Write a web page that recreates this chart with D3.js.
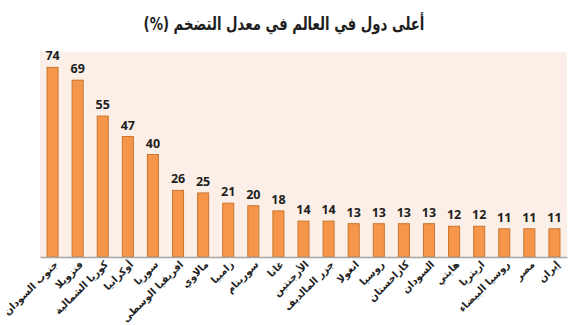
<!DOCTYPE html>
<html lang="ar">
<head>
<meta charset="utf-8">
<script src="https://cdn.jsdelivr.net/npm/d3@7"></script>
<style>
  html, body { margin: 0; padding: 0; background: #ffffff; }
  svg { display: block; }
</style>
</head>
<body>
<svg id="chart" width="570" height="325"></svg>
<script>
// Countries ranked by inflation rate (%)
const countries = [
  "جنوب السودان", "فنزويلا", "كوريا الشمالية", "أوكرانيا", "سوريا",
  "افريقيا الوسطى", "مالاوي", "زامبيا", "سورينام", "غانا",
  "الأرجنتين", "جزر المالديف", "انغولا", "روسيا", "كازاخستان",
  "السودان", "هايتي", "اريتريا", "روسيا البيضاء", "مصر", "إيران"
];
const inflation = [74, 69, 55, 47, 40, 26, 25, 21, 20, 18, 14, 14, 13, 13, 13, 13, 12, 12, 11, 11, 11];
const yDomain = [0, 80];
const title = "أعلى دول في العالم في معدل التضخم (%)";

const data = countries.map((c, i) => ({ country: c, value: inflation[i] }));

const svg = d3.select("#chart");
const plot = { left: 40, right: 567, top: 52, bottom: 257 };

const x = d3.scaleBand()
  .domain(countries)
  .range([plot.left, plot.right])
  .paddingInner(0.56)
  .paddingOuter(0.28);

const y = d3.scaleLinear()
  .domain(yDomain)
  .range([plot.bottom, plot.top]);

// Plot area background
svg.append("rect")
  .attr("x", plot.left)
  .attr("y", plot.top)
  .attr("width", plot.right - plot.left)
  .attr("height", plot.bottom - plot.top)
  .attr("fill", "#fcefe7");

// Bars
svg.append("g")
  .selectAll("rect")
  .data(data)
  .join("rect")
  .attr("x", d => x(d.country))
  .attr("y", d => y(d.value))
  .attr("width", x.bandwidth())
  .attr("height", d => y(0) - y(d.value))
  .attr("fill", "#f5964a")
  .attr("stroke", "#c8762f")
  .attr("stroke-width", 1);

// Value labels above bars
svg.append("g")
  .selectAll("text")
  .data(data)
  .join("text")
  .attr("x", d => x(d.country) + x.bandwidth() / 2)
  .attr("y", d => y(d.value) - 7)
  .attr("text-anchor", "middle")
  .attr("font-family", "'Open Sans', sans-serif")
  .attr("font-weight", "bold")
  .attr("font-size", 12.5)
  .attr("fill", "#1e1e1e")
  .text(d => d.value);

// Category axis
const xAxis = d3.axisBottom(x).tickSize(0).tickPadding(0);
const gx = svg.append("g")
  .attr("transform", `translate(0,${plot.bottom})`)
  .call(xAxis);
gx.select(".domain").attr("stroke", "#a6a6a6").attr("stroke-width", 1.5);
gx.selectAll(".tick text")
  .attr("direction", "rtl")
  .attr("text-anchor", "start")
  .attr("font-family", "'DejaVu Sans', sans-serif")
  .attr("font-weight", "bold")
  .attr("font-size", 10)
  .attr("fill", "#1e1e1e")
  .attr("dy", null)
  .attr("y", 0)
  .attr("transform", "translate(6,8) rotate(-45)");

// Title, condensed horizontally to a compact width
const titleWidth = 281;
const titleG = svg.append("g");
const titleText = titleG.append("text")
  .attr("x", 0)
  .attr("y", 0)
  .attr("text-anchor", "middle")
  .attr("direction", "rtl")
  .attr("font-family", "'DejaVu Sans', sans-serif")
  .attr("font-weight", "bold")
  .attr("font-size", 18)
  .attr("fill", "#1e1e1e")
  .text(title);
const measured = titleText.node().getComputedTextLength();
titleG.attr("transform", `translate(284,30) scale(${titleWidth / measured},1)`);
</script>
</body>
</html>
